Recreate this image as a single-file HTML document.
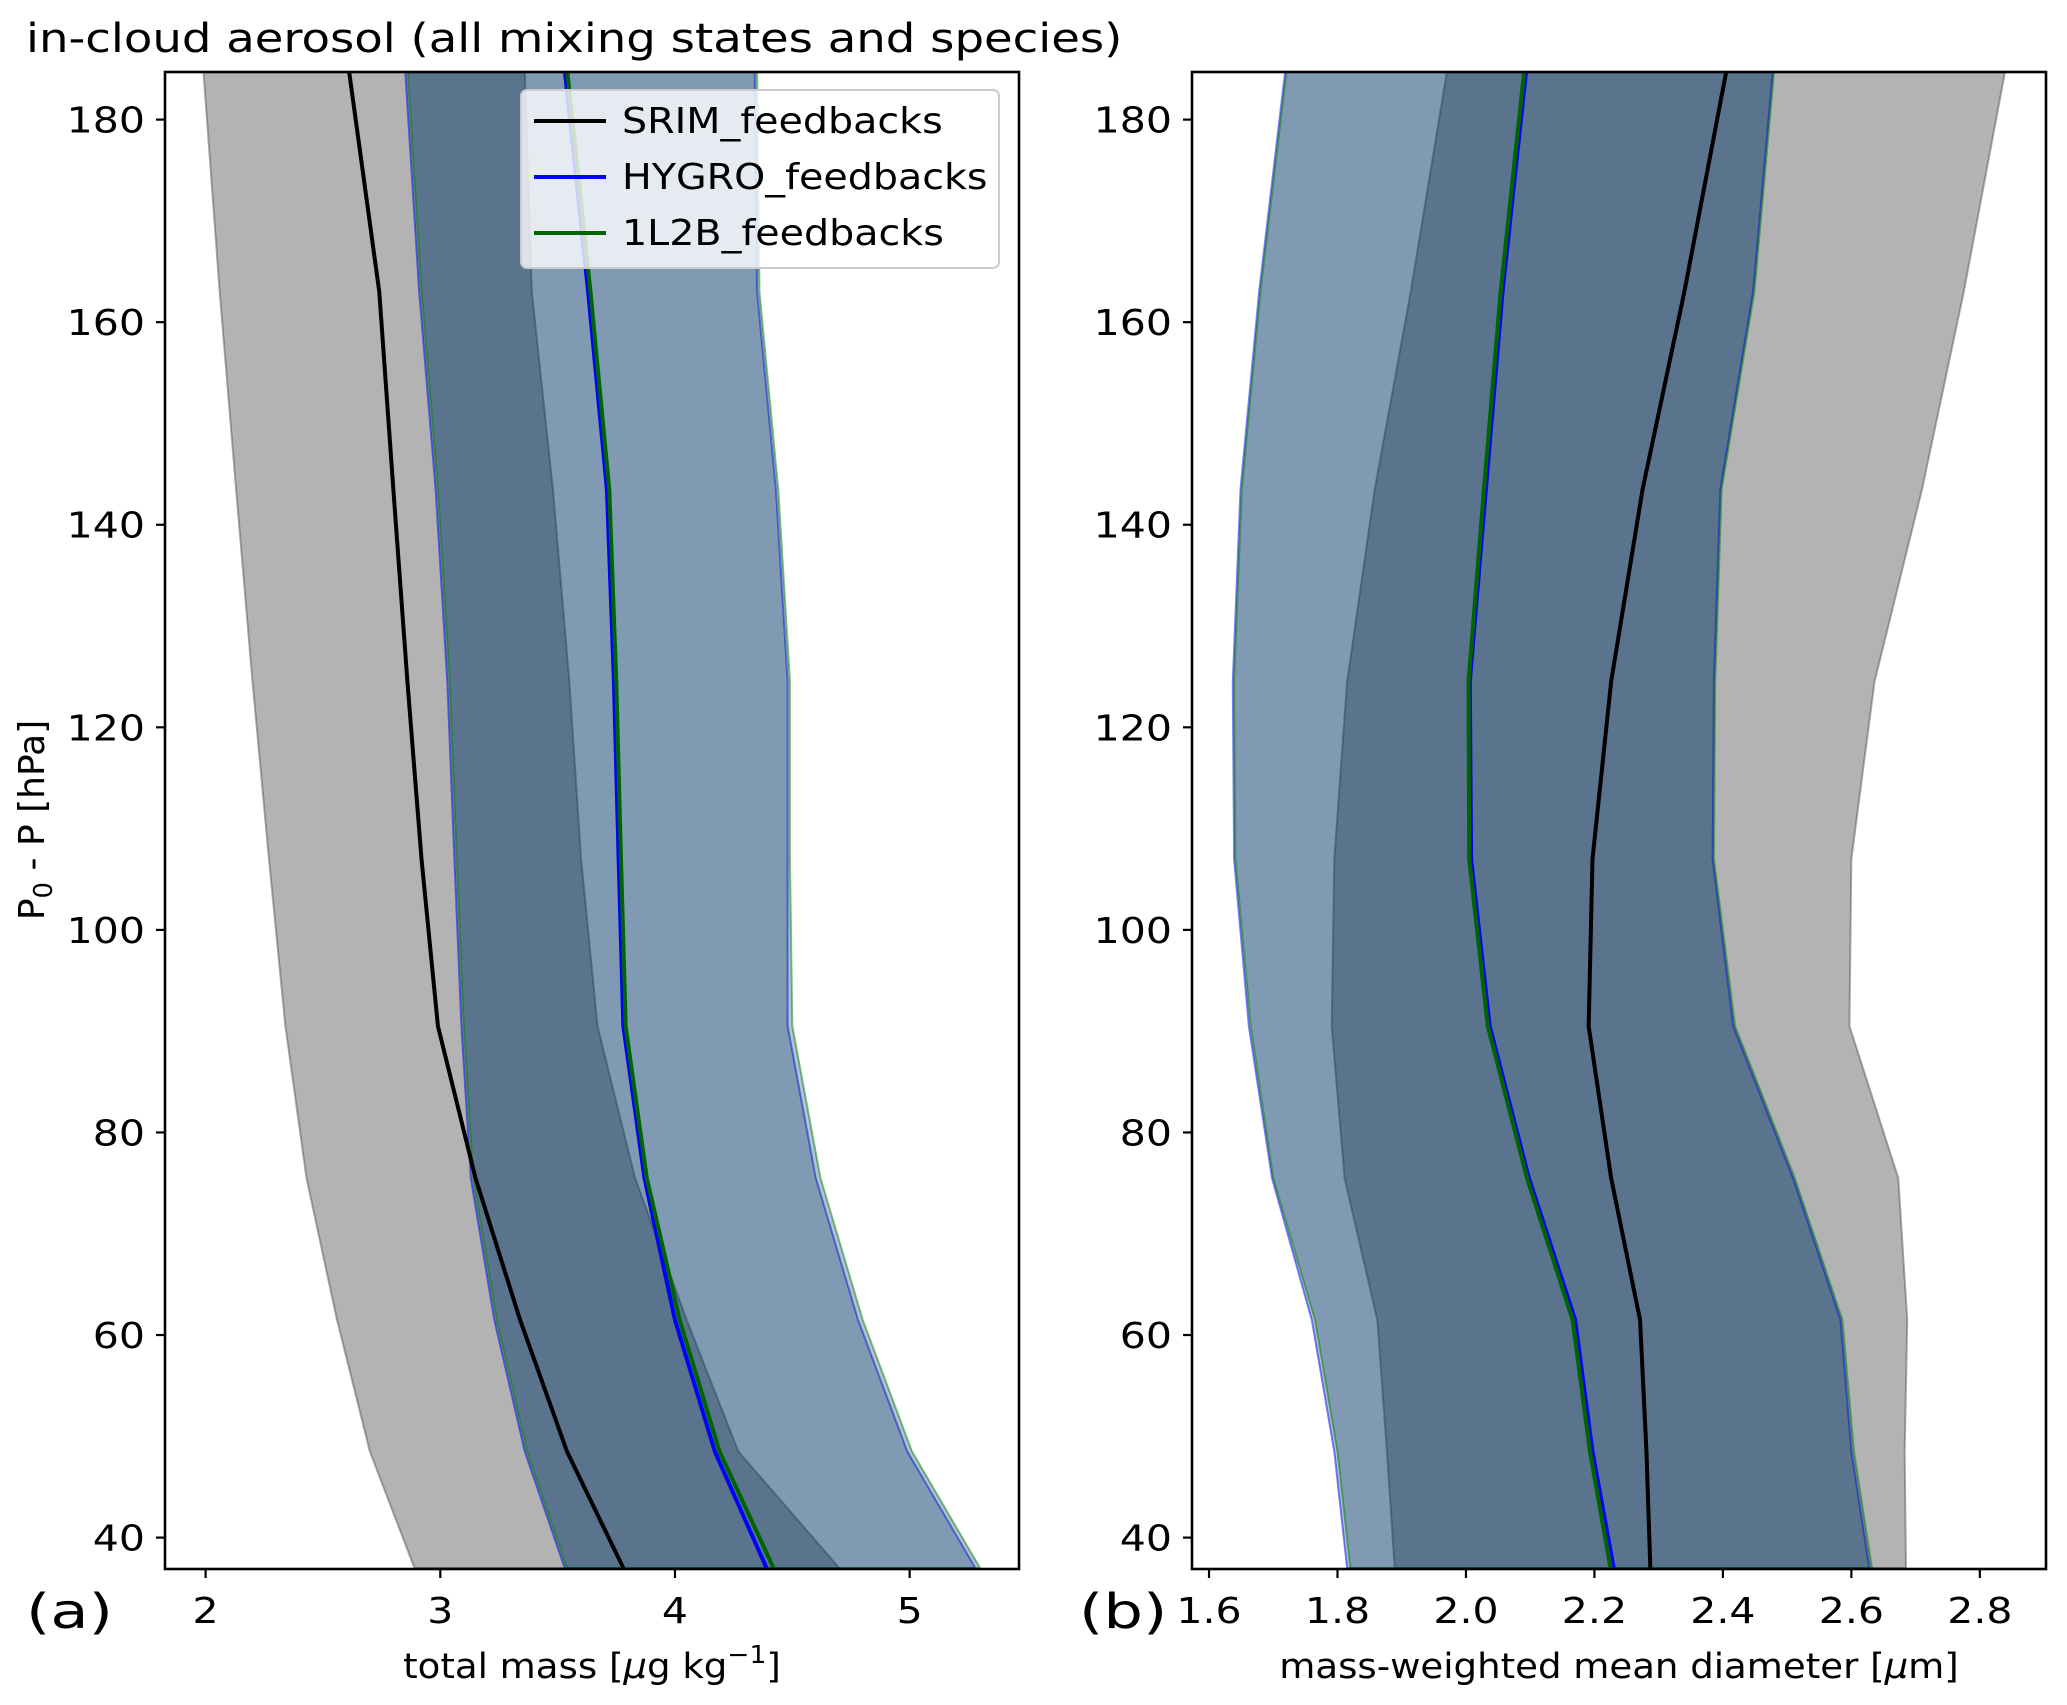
<!DOCTYPE html>
<html><head><meta charset="utf-8"><style>
body{margin:0;background:#fff;}
svg{display:block;font-family:"DejaVu Sans","Liberation Sans",sans-serif;}
</style></head><body>
<svg id="c" width="2067" height="1705" viewBox="0 0 2067 1705" xmlns="http://www.w3.org/2000/svg">
<text transform="translate(26,52) scale(1.165,1)" font-size="40">in-cloud aerosol (all mixing states and species)</text>
</svg>
<script>
const levels=[37,48.5,61.5,75.5,90.5,107,124.5,143.5,163,185];
// panel a: total mass
const aSrim=[3.78,3.54,3.34,3.15,2.99,2.92,2.86,2.80,2.74,2.61];
const aSrimLo=[2.89,2.70,2.56,2.43,2.34,2.27,2.20,2.13,2.06,1.99];
const aSrimHi=[4.70,4.27,4.05,3.83,3.67,3.60,3.55,3.48,3.39,3.36];
const aHyg=[4.39,4.17,4.00,3.87,3.78,3.76,3.74,3.71,3.63,3.53];
const aHygLo=[3.53,3.36,3.23,3.13,3.09,3.06,3.03,2.98,2.91,2.85];
const aHygHi=[5.28,4.99,4.78,4.60,4.48,4.48,4.48,4.43,4.35,4.34];
const a1l=[4.42,4.19,4.02,3.88,3.79,3.77,3.75,3.72,3.64,3.54];
const a1lLo=[3.54,3.37,3.24,3.14,3.10,3.07,3.04,2.99,2.92,2.86];
const a1lHi=[5.30,5.01,4.80,4.62,4.50,4.49,4.49,4.44,4.36,4.35];
// panel b: diameter
const bSrim=[2.287,2.281,2.271,2.226,2.191,2.197,2.226,2.275,2.34,2.406];
const bSrimLo=[1.889,1.877,1.862,1.811,1.791,1.795,1.815,1.858,1.914,1.971];
const bSrimHi=[2.685,2.683,2.687,2.673,2.597,2.600,2.636,2.71,2.775,2.84];
const bHyg=[2.23,2.197,2.17,2.098,2.037,2.008,2.006,2.031,2.057,2.094];
const bHygLo=[1.815,1.795,1.76,1.698,1.662,1.639,1.637,1.649,1.678,1.719];
const bHygHi=[2.628,2.60,2.583,2.509,2.416,2.384,2.386,2.396,2.447,2.478];
const b1l=[2.225,2.193,2.166,2.095,2.034,2.005,2.004,2.028,2.054,2.091];
const b1lLo=[1.82,1.80,1.765,1.70,1.665,1.641,1.639,1.651,1.68,1.721];
const b1lHi=[2.632,2.604,2.586,2.512,2.419,2.386,2.388,2.398,2.449,2.48];
const yTicks=[40,60,80,100,120,140,160,180];
const aTicks=[2,3,4,5];
const bTicks=["1.6","1.8","2.0","2.2","2.4","2.6","2.8"];

const NS="http://www.w3.org/2000/svg";
const svg=document.getElementById('c');
const T=72,B=1569;
const yMin=36.9,yMax=184.7;
function Y(v){return B-(v-yMin)/(yMax-yMin)*(B-T);}
function mk(tag,attrs,parent){const e=document.createElementNS(NS,tag);for(const k in attrs)e.setAttribute(k,attrs[k]);(parent||svg).appendChild(e);return e;}
function stxt(x,y,sx,size,anchor,parent){return mk('text',{transform:'translate('+x+','+y+') scale('+sx+',1)','font-size':size,'text-anchor':anchor},parent);}

function panel(id,L,R,xMin,xMax,S,H,O,ticks,xlabel,letter,letterX){
  const X=v=>L+(v-xMin)/(xMax-xMin)*(R-L);
  const g=mk('g',{});
  
  
  const cp=mk('clipPath',{id:'cp'+id},g);
  mk('rect',{x:L,y:T,width:R-L,height:B-T},cp);
  const pg=mk('g',{'clip-path':'url(#cp'+id+')'},g);
  function band(lo,hi,fill,op,stroke,name){
    let pts=[];
    for(let i=0;i<levels.length;i++)pts.push(X(lo[i])+','+Y(levels[i]));
    for(let i=levels.length-1;i>=0;i--)pts.push(X(hi[i])+','+Y(levels[i]));
    const p=mk('polygon',{points:pts.join(' '),fill:fill,'fill-opacity':op,stroke:stroke,'stroke-opacity':0.5,'stroke-width':2},pg);
    
    
  }
  function line(v,col,name){
    const pts=v.map((x,i)=>X(x)+','+Y(levels[i])).join(' ');
    const p=mk('polyline',{points:pts,fill:'none',stroke:col,'stroke-width':4},pg);
    
    
  }
  band(S[1],S[2],'rgb(128,128,128)',0.6,'#555','srim-band-'+id);
  band(H[1],H[2],'rgb(0,55,103)',0.293,'#0000ff','hygro-band-'+id);
  band(O[1],O[2],'rgb(0,55,103)',0.293,'#008000','1l2b-band-'+id);
  line(S[0],'#000','srim-line-'+id);
  line(H[0],'#0000ff','hygro-line-'+id);
  line(O[0],'#006400','1l2b-line-'+id);
  const fr=mk('rect',{x:L,y:T,width:R-L,height:B-T,fill:'none',stroke:'#000','stroke-width':2.6},g);
  
  
  yTicks.forEach(t=>{
    mk('line',{x1:L-9,x2:L,y1:Y(t),y2:Y(t),stroke:'#000','stroke-width':2.2},g);
    const tx=stxt(L-20,Y(t)+13,1.14,36,'end',g);
    tx.textContent=t;
    
    
  });
  ticks.forEach(t=>{
    const v=parseFloat(t);
    mk('line',{x1:X(v),x2:X(v),y1:B,y2:B+9,stroke:'#000','stroke-width':2.2},g);
    const tx=stxt(X(v),B+54,1.14,36,'middle',g);
    tx.textContent=t;
    
    
  });
  const xl=stxt((L+R)/2,1678,1.06,35,'middle',g);
  xl.innerHTML=xlabel;
  
  
  const lt=stxt(letterX,1628,1.3,48,'start',g);
  lt.textContent=letter;
  
  
}
panel('a',165,1019,1.827,5.466,[aSrim,aSrimLo,aSrimHi],[aHyg,aHygLo,aHygHi],[a1l,a1lLo,a1lHi],aTicks.map(String),
 'total mass [<tspan font-style="italic">μ</tspan>g kg<tspan dy="-15" font-size="25">−1</tspan><tspan dy="15">]</tspan>','(a)',26);
panel('b',1192,2046,1.5735,2.903,[bSrim,bSrimLo,bSrimHi],[bHyg,bHygLo,bHygHi],[b1l,b1lLo,b1lHi],bTicks,
 'mass-weighted mean diameter [<tspan font-style="italic">μ</tspan>m]','(b)',1079);

// y-axis title
const yl=mk('text',{transform:'translate(44,820) rotate(-90)','font-size':36,'text-anchor':'middle'});
yl.innerHTML='P<tspan dy="8" font-size="26">0</tspan><tspan dy="-8"> - P [hPa]</tspan>';



// legend
const lg=mk('g',{});


mk('rect',{x:521,y:90,width:478,height:178,rx:6,fill:'#fff','fill-opacity':0.8,stroke:'#ccc','stroke-width':2},lg);
const labels=['SRIM_feedbacks','HYGRO_feedbacks','1L2B_feedbacks'];
const cols=['#000','#0000ff','#006400'];
labels.forEach((s,i)=>{
  const y=121+i*56;
  const e=mk('g',{},lg);
  
  
  mk('line',{x1:534,x2:606,y1:y,y2:y,stroke:cols[i],'stroke-width':4},e);
  const t=stxt(622,y+12,1.1,36,'start',e);
  t.textContent=s;
});
</script>
</body></html>
